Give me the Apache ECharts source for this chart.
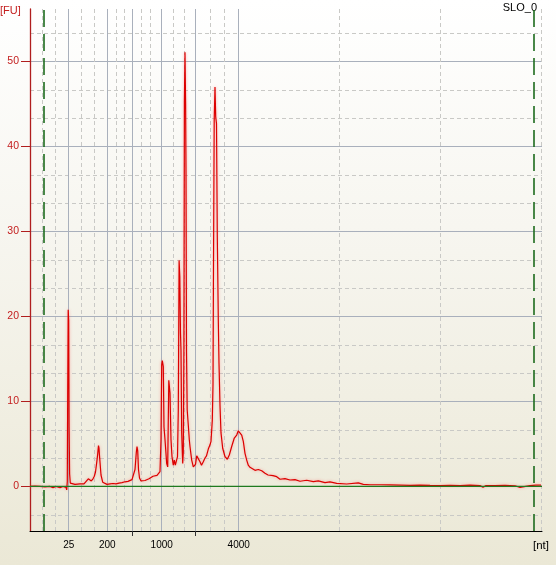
<!DOCTYPE html>
<html>
<head>
<meta charset="utf-8">
<script src="https://cdn.jsdelivr.net/npm/echarts@6/dist/echarts.min.js"></script>
<style>
  html, body { margin: 0; padding: 0; }
  #chart { width: 556px; height: 565px; background: linear-gradient(to bottom, #ffffff 0%, #f7f6f0 40%, #ebe8d6 100%); }
</style>
</head>
<body>
<div id="chart"></div>
<script>
// Migration time (s) and fluorescence (FU)
const timeSec = [
  20.00, 20.50, 21.00, 21.50, 22.00, 22.30, 22.60, 23.00, 23.30, 23.60,
  23.67, 23.73, 23.77, 23.82, 23.87, 23.91, 23.96, 24.03, 24.10, 24.50,
  25.00, 25.40, 25.60, 25.83, 26.00, 26.13, 26.30, 26.43, 26.55, 26.67,
  26.77, 26.85, 26.90, 26.97, 27.10, 27.27, 27.40, 27.70, 28.00, 28.30,
  28.60, 28.90, 29.20, 29.50, 29.80, 30.00, 30.20, 30.35, 30.50, 30.63,
  30.70, 30.77, 30.85, 30.95, 31.10, 31.30, 31.50, 31.70, 31.90, 32.10,
  32.30, 32.50, 32.70, 32.85, 33.00, 33.10, 33.17, 33.23, 33.33, 33.40,
  33.50, 33.67, 33.77, 33.83, 33.88, 33.93, 34.00, 34.10, 34.20, 34.33,
  34.43, 34.53, 34.67, 34.75, 34.83, 34.91, 34.98, 35.05, 35.10, 35.17,
  35.27, 35.33, 35.39, 35.44, 35.50, 35.56, 35.60, 35.65, 35.72, 35.83,
  35.93, 36.00, 36.17, 36.33, 36.45, 36.55, 36.67, 36.83, 37.00, 37.15,
  37.33, 37.50, 37.65, 37.83, 38.00, 38.10, 38.23, 38.30, 38.35, 38.42,
  38.50, 38.57, 38.65, 38.73, 38.83, 38.90, 39.00, 39.10, 39.27, 39.50,
  39.73, 39.93, 40.17, 40.43, 40.67, 40.83, 40.92, 41.00, 41.17, 41.33,
  41.50, 41.67, 41.83, 42.00, 42.17, 42.50, 42.83, 43.00, 43.17, 43.50,
  43.80, 44.00, 44.30, 44.67, 45.00, 45.17, 45.50, 46.00, 46.50, 47.00,
  47.67, 48.33, 48.83, 49.50, 50.00, 50.67, 51.67, 52.83, 53.33, 54.00,
  55.00, 56.00, 57.00, 58.00, 59.00, 60.00, 61.00, 62.00, 63.00, 64.00,
  65.00, 65.30, 65.60, 66.50, 67.50, 68.50, 69.00, 69.20, 70.00, 70.60,
  71.10
];
const fluorescence = [
  0.00, 0.05, 0.00, -0.05, 0.00, -0.15, 0.00, -0.15, 0.00, -0.10,
  -0.40, 0.60, 11.0, 20.8, 19.5, 7.0, 1.5, 0.40, 0.25, 0.25,
  0.30, 0.30, 0.50, 0.90, 0.75, 0.65, 0.90, 1.20, 1.70, 2.80,
  3.80, 4.80, 4.50, 3.30, 1.35, 0.50, 0.30, 0.25, 0.30, 0.35,
  0.30, 0.40, 0.45, 0.55, 0.60, 0.65, 0.80, 1.00, 2.00, 4.00,
  4.70, 4.20, 2.00, 1.00, 0.65, 0.60, 0.70, 0.85, 0.90, 1.10,
  1.20, 1.35, 1.30, 1.25, 1.75, 5.50, 14.3, 14.8, 14.1, 7.00,
  5.50, 2.70, 2.30, 8.00, 12.5, 12.3, 11.0, 5.50, 3.50, 2.50,
  3.10, 2.50, 2.30, 3.50, 9.00, 26.6, 24.7, 18.0, 16.0, 6.30,
  2.70, 4.00, 16.0, 45.3, 51.1, 45.0, 37.2, 16.0, 9.00, 7.20,
  5.50, 4.70, 3.10, 2.30, 2.10, 2.60, 3.60, 3.40, 2.90, 2.50,
  2.90, 3.35, 3.60, 4.40, 4.90, 5.30, 7.80, 12.0, 26.0, 43.0,
  47.0, 43.5, 42.7, 29.4, 19.6, 14.5, 9.50, 6.30, 4.50, 3.50,
  3.20, 3.70, 4.70, 5.70, 6.05, 6.55, 6.40, 6.45, 6.05, 5.30,
  3.90, 3.10, 2.50, 2.25, 2.10, 1.90, 2.00, 2.00, 1.85, 1.55,
  1.35, 1.38, 1.28, 1.15, 0.85, 1.05, 0.92, 0.76, 0.80, 0.61,
  0.73, 0.57, 0.65, 0.45, 0.53, 0.37, 0.29, 0.42, 0.25, 0.20,
  0.20, 0.18, 0.15, 0.12, 0.15, 0.12, 0.10, 0.12, 0.10, 0.15,
  0.10, -0.10, 0.10, 0.10, 0.12, 0.08, -0.10, 0.10, 0.10, 0.15,
  0.15
];
// Ladder (nt) labels and their migration times
const ladderLabels = ['25', '200', '1000', '4000'];
const ladderLabelTimes = [23.87, 27.73, 33.17, 40.87];
const ladderTickTimes = [30.27, 36.57];           // 500 and 2000 nt, tick only
const ladderLineTimes = [23.87, 27.73, 30.27, 33.17, 36.57, 40.87];
const minorLineTimes = [21.2, 22.57, 25.17, 26.43, 28.6, 29.43, 31.17, 32.07,
  34.33, 35.43, 38.0, 39.43, 50.9, 61.0, 71.15];
const markerTimes = [21.33, 70.4];                // lower / upper marker limits
const fuTicks = [0, 10, 20, 30, 40, 50];
const fuMinorLines = [-3.333, 3.333, 6.667, 13.333, 16.667, 23.333, 26.667,
  33.333, 36.667, 43.333, 46.667, 53.333];
const baselineTime = [20, 71.2];
const baselineFU = [0, 0];

const X_MIN = 20, X_MAX = 71.2, Y_MIN = -5.24, Y_MAX = 56.18;
const font = 'Liberation Sans, Arial, sans-serif';

const chart = echarts.init(document.getElementById('chart'), null, { renderer: 'canvas' });

const hiddenX = (vals, style) => ({
  type: 'value', min: X_MIN, max: X_MAX, position: 'bottom',
  axisLine: { show: false }, axisLabel: { show: false },
  axisTick: { show: false, customValues: vals },
  splitLine: { show: true, lineStyle: style }
});
const hiddenY = (vals, style) => ({
  type: 'value', min: Y_MIN, max: Y_MAX, position: 'left',
  axisLine: { show: false }, axisLabel: { show: false },
  axisTick: { show: false, customValues: vals },
  splitLine: { show: true, lineStyle: style }
});

const option = {
  animation: false,
  backgroundColor: 'transparent',
  grid: { left: 30, right: 14, top: 9, bottom: 34 },
  xAxis: [
    {
      type: 'value', min: X_MIN, max: X_MAX, position: 'bottom',
      axisLine: { show: true, onZero: false, lineStyle: { color: '#000', width: 1 } },
      axisTick: { show: true, customValues: ladderTickTimes, length: 5, lineStyle: { color: '#333' } },
      axisLabel: {
        customValues: ladderLabelTimes, color: '#000', fontSize: 10, fontFamily: font, margin: 9,
        formatter: v => {
          const i = ladderLabelTimes.findIndex(p => Math.abs(p - v) < 1e-6);
          return i >= 0 ? ladderLabels[i] : '';
        }
      },
      splitLine: { show: false }
    },
    hiddenX(ladderLineTimes, { color: '#a9b0bc', width: 1 }),
    hiddenX(minorLineTimes, { color: '#c9c9c6', width: 1, type: [4, 3] })
  ],
  yAxis: [
    {
      type: 'value', min: Y_MIN, max: Y_MAX, position: 'left',
      axisLine: { show: true, onZero: false, lineStyle: { color: '#b01e1e', width: 1.3 } },
      axisTick: { show: true, customValues: fuTicks, length: 9, lineStyle: { color: '#b01e1e', width: 1 } },
      axisLabel: { customValues: fuTicks, color: '#c42020', fontSize: 10.5, fontFamily: font, margin: 11 },
      splitLine: { show: true, lineStyle: { color: '#a9b0bc', width: 1 } }
    },
    hiddenY(fuMinorLines, { color: '#c9c9c6', width: 1, type: [4, 3] })
  ],
  graphic: [
    { type: 'text', left: 0, top: 5, style: { text: '[FU]', fill: '#c42020', font: '11px ' + font } },
    { type: 'text', right: 19, top: 2, style: { text: 'SLO_0', fill: '#000', font: '11px ' + font } },
    { type: 'text', left: 533, top: 540, style: { text: '[nt]', fill: '#000', font: '11.5px ' + font } }
  ],
  series: [
    {
      type: 'line', xAxisIndex: 0, yAxisIndex: 0, z: 3,
      data: timeSec.map((t, i) => [t, fluorescence[i]]),
      showSymbol: false, symbol: 'none', silent: true,
      lineStyle: { color: '#dc0000', width: 1.2, shadowColor: 'rgba(255,90,90,0.55)', shadowBlur: 3 }
    },
    {
      type: 'line', xAxisIndex: 0, yAxisIndex: 0, z: 4,
      data: baselineTime.map((t, i) => [t, baselineFU[i]]),
      showSymbol: false, symbol: 'none', silent: true,
      lineStyle: { color: '#1f7a1f', width: 1.2 },
      markLine: {
        silent: true, symbol: 'none', label: { show: false },
        lineStyle: { color: '#1d6b1d', width: 1.6, type: [17, 7] },
        data: markerTimes.map(t => ({ xAxis: t }))
      }
    }
  ]
};
chart.setOption(option);
</script>
</body>
</html>
